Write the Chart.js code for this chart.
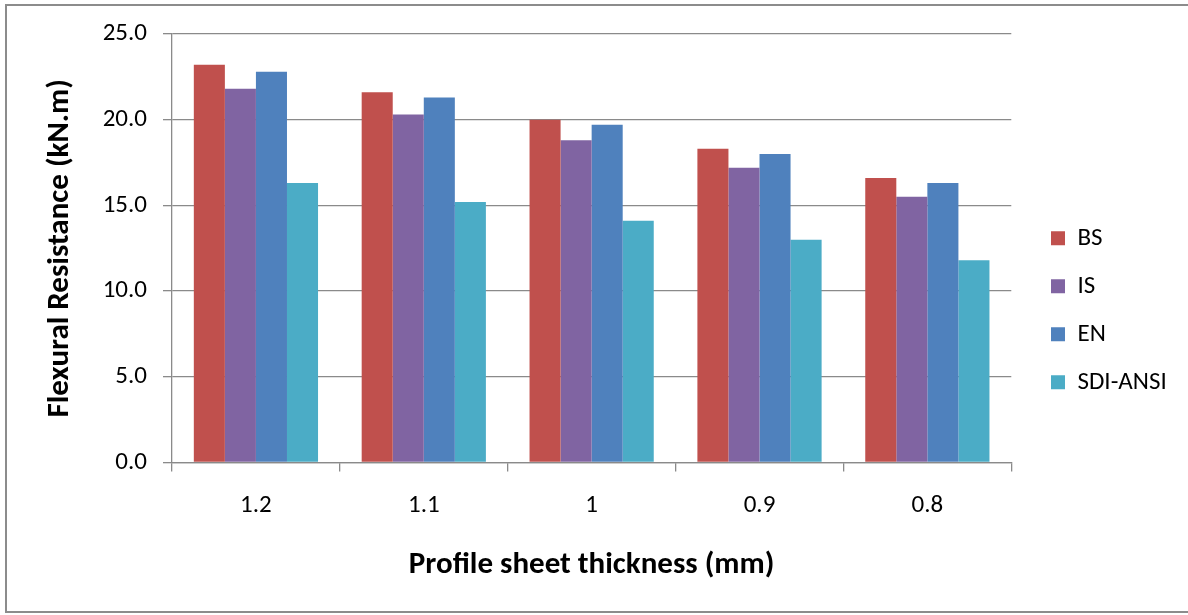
<!DOCTYPE html>
<html>
<head>
<meta charset="utf-8">
<script src="https://cdn.jsdelivr.net/npm/chart.js@4.4.1/dist/chart.umd.min.js"></script>
<style>
  html, body { margin: 0; padding: 0; background: #fff; }
  #wrap { width: 1188px; height: 615px; position: relative; }
</style>
</head>
<body>
<div id="wrap"><canvas id="c" width="1188" height="615"></canvas></div>
<script>
const categories = ['1.2', '1.1', '1', '0.9', '0.8'];
const bsValues = [23.2, 21.6, 20.0, 18.3, 16.6];
const isValues = [21.8, 20.3, 18.8, 17.2, 15.5];
const enValues = [22.8, 21.3, 19.7, 18.0, 16.3];
const sdiValues = [16.3, 15.2, 14.1, 13.0, 11.8];
const seriesNames = ['BS', 'IS', 'EN', 'SDI-ANSI'];
const yTicks = [0, 5, 10, 15, 20, 25];

const FONT = 'Carlito, Calibri, Lato, "Open Sans", sans-serif';
const GRID = '#8a8a8a';

const framePlugin = {
  id: 'frame',
  beforeDraw(chart) {
    const ctx = chart.ctx;
    ctx.save();
    ctx.fillStyle = '#fff';
    ctx.fillRect(0, 0, chart.width, chart.height);
    ctx.strokeStyle = '#8c8c8c';
    ctx.lineWidth = 2;
    ctx.strokeRect(6, 5, 1200, 607);
    ctx.restore();
  }
};

const legendShift = {
  id: 'legendShift',
  afterLayout(chart) {
    const lg = chart.legend;
    if (!lg) return;
    const dx = 1051 - lg.options.labels.padding - lg.left;
    lg.left += dx; lg.right += dx;
    lg.top -= 3; lg.bottom -= 3;
  }
};

new Chart(document.getElementById('c'), {
  type: 'bar',
  data: {
    labels: categories,
    datasets: [
      { label: seriesNames[0], data: bsValues, backgroundColor: '#C0504D' },
      { label: seriesNames[1], data: isValues, backgroundColor: '#8064A2' },
      { label: seriesNames[2], data: enValues, backgroundColor: '#4F81BD' },
      { label: seriesNames[3], data: sdiValues, backgroundColor: '#4BACC6' }
    ]
  },
  options: {
    responsive: false,
    animation: false,
    devicePixelRatio: 1,
    layout: { padding: { left: 20, top: 34, right: 28, bottom: 22.5 } },
    datasets: { bar: { categoryPercentage: 0.74, barPercentage: 1.0, borderWidth: 0 } },
    plugins: {
      tooltip: { enabled: false },
      legend: {
        position: 'right',
        align: 'center',
        labels: {
          font: { family: FONT, size: 25 },
          color: '#000',
          boxWidth: 14,
          boxHeight: 14,
          padding: 23
        }
      }
    },
    scales: {
      x: {
        offset: true,
        grid: { display: true, drawOnChartArea: false, offset: true, color: GRID, lineWidth: 1.3, tickLength: 9 },
        border: { display: true, color: GRID, width: 1.3 },
        ticks: { color: '#000', font: { family: FONT, size: 25 }, padding: 19 },
        title: {
          display: true,
          text: 'Profile sheet thickness (mm)',
          color: '#000',
          font: { family: FONT, size: 31, weight: 'bold' },
          padding: { top: 4, bottom: 9 }
        },
        afterFit(scale) { scale.height = 130; }
      },
      y: {
        min: 0,
        max: 25,
        afterBuildTicks(scale) { scale.ticks = yTicks.map(v => ({ value: v })); },
        grid: { color: GRID, lineWidth: 1.3, tickLength: 9 },
        border: { display: true, color: GRID, width: 1.3 },
        ticks: {
          color: '#000',
          font: { family: FONT, size: 25 },
          padding: 16,
          callback: v => Number(v).toFixed(1)
        },
        title: {
          display: true,
          text: 'Flexural Resistance (kN.m)',
          color: '#000',
          font: { family: FONT, size: 31, weight: 'bold' },
          padding: { top: 22, bottom: 0 }
        },
        afterFit(scale) { scale.width = 152; }
      }
    }
  },
  plugins: [framePlugin, legendShift]
});
</script>
</body>
</html>
